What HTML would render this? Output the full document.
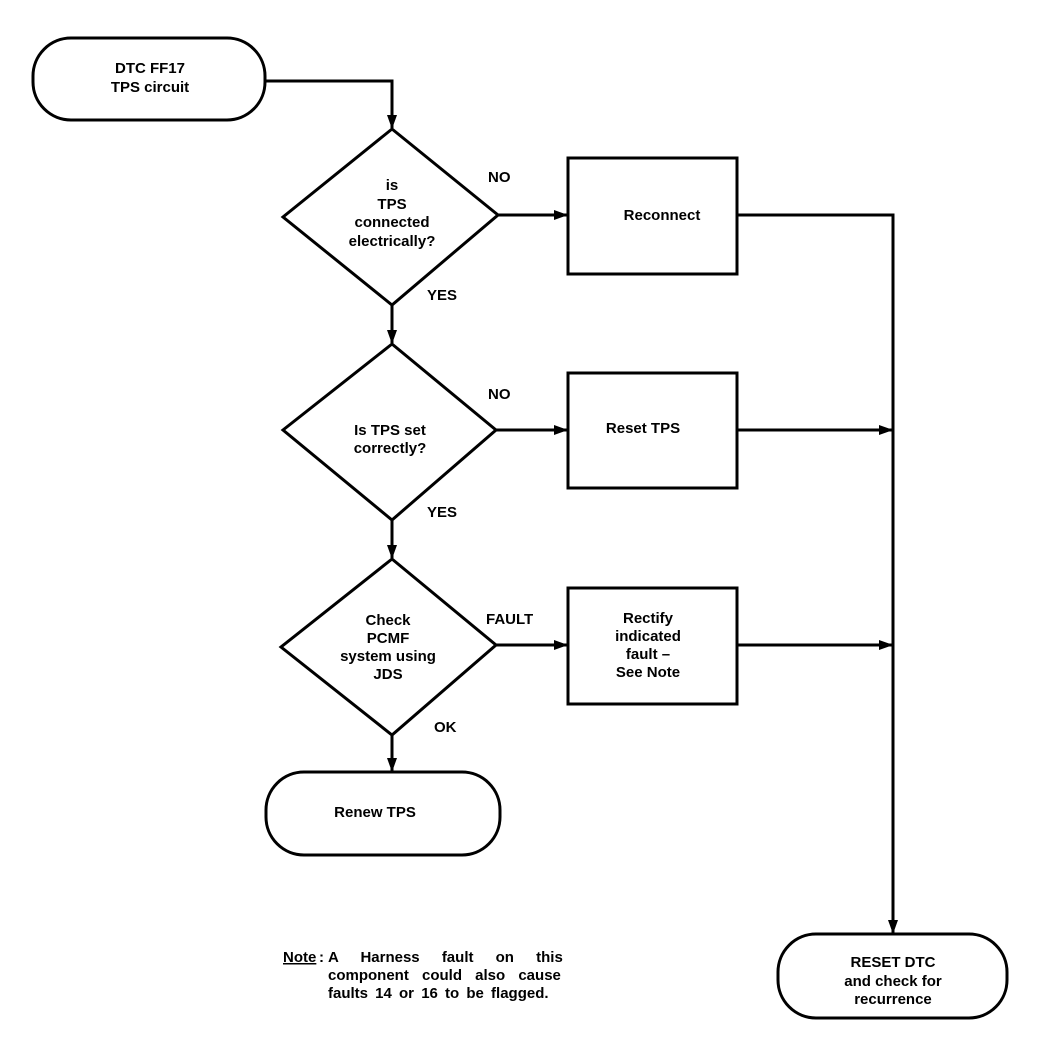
<!DOCTYPE html>
<html><head><meta charset="utf-8"><style>
html,body{margin:0;padding:0;background:#fff;width:1056px;height:1056px;overflow:hidden}
text{font-family:"Liberation Sans",Arial,sans-serif;font-size:15px;font-weight:bold;fill:#000}
</style></head><body>
<svg width="1056" height="1056" viewBox="0 0 1056 1056" xmlns="http://www.w3.org/2000/svg">
<defs>
<marker id="b" markerWidth="14" markerHeight="12" refX="13" refY="6" orient="auto" markerUnits="userSpaceOnUse">
<path d="M0,1 L14,6 L0,11 Z" fill="#000"/></marker></defs>
<g fill="none" stroke="#000" stroke-width="3">
<rect x="33" y="38" width="232" height="82" rx="38"/>
<rect x="266" y="772" width="234" height="83" rx="38"/>
<rect x="778" y="934" width="229" height="84" rx="38"/>
<polygon points="392,129 498,215 392,305 283,217"/>
<polygon points="392,344 496,430 392,520 283,430"/>
<polygon points="392,559 496,645 392,735 281,647"/>
<rect x="568" y="158" width="169" height="116"/>
<rect x="568" y="373" width="169" height="115"/>
<rect x="568" y="588" width="169" height="116"/>
<path d="M265,81 H392 V128" marker-end="url(#b)"/>
<path d="M392,305 V343" marker-end="url(#b)"/>
<path d="M392,520 V558" marker-end="url(#b)"/>
<path d="M392,735 V771" marker-end="url(#b)"/>
<path d="M498,215 H567" marker-end="url(#b)"/>
<path d="M496,430 H567" marker-end="url(#b)"/>
<path d="M496,645 H567" marker-end="url(#b)"/>
<path d="M737,215 H893 V933" marker-end="url(#b)"/>
<path d="M737,430 H892" marker-end="url(#b)"/>
<path d="M737,645 H892" marker-end="url(#b)"/>
</g>
<g text-anchor="middle">
<text x="150" y="73">DTC FF17</text>
<text x="150" y="92">TPS circuit</text>
<text x="392" y="190">is</text>
<text x="392" y="209">TPS</text>
<text x="392" y="227">connected</text>
<text x="392" y="246">electrically?</text>
<text x="662" y="220">Reconnect</text>
<text x="390" y="435">Is TPS set</text>
<text x="390" y="453">correctly?</text>
<text x="643" y="433">Reset TPS</text>
<text x="388" y="625">Check</text>
<text x="388" y="643">PCMF</text>
<text x="388" y="661">system using</text>
<text x="388" y="679">JDS</text>
<text x="648" y="623">Rectify</text>
<text x="648" y="641">indicated</text>
<text x="648" y="659">fault –</text>
<text x="648" y="677">See Note</text>
<text x="375" y="817">Renew TPS</text>
<text x="893" y="967">RESET DTC</text>
<text x="893" y="986">and check for</text>
<text x="893" y="1004">recurrence</text>
</g>
<text x="488" y="182">NO</text>
<text x="427" y="300">YES</text>
<text x="488" y="399">NO</text>
<text x="427" y="517">YES</text>
<text x="486" y="624">FAULT</text>
<text x="434" y="732">OK</text>
<text x="283" y="962" text-decoration="underline">Note</text>
<text x="319" y="962">:</text>
<text x="328" y="962" word-spacing="18">A Harness fault on this</text>
<text x="328" y="980" word-spacing="9">component could also cause</text>
<text x="328" y="998" word-spacing="3">faults 14 or 16 to be flagged.</text>
</svg>
</body></html>
